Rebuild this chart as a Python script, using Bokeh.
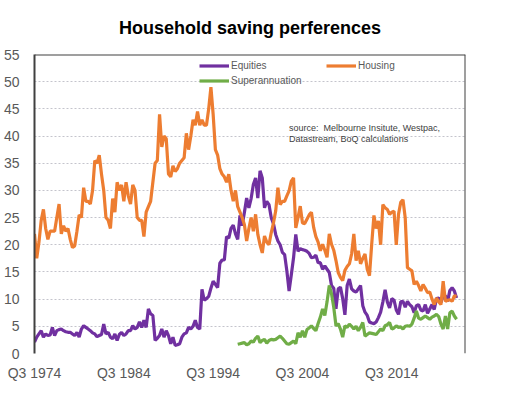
from bokeh.plotting import figure
from bokeh.models import Range1d, FixedTicker, Legend, LegendItem, Span, Label
from bokeh.embed import file_html
from bokeh.resources import INLINE

# Quarterly data, Q3 1974 .. Q4 2021 (index 0 = Q3 1974)
housing = [
    22.0, 17.5, 20.5, 24.5, 26.5, 23.0, 21.0, 22.5, 22.5, 22.5,
    25.0, 27.5, 22.0, 23.5, 22.5, 23.0, 21.0, 19.5, 19.8, 22.5,
    25.5, 25.0, 30.5, 28.0, 28.0, 27.5, 30.0, 35.5, 35.0, 36.5,
    33.0, 30.0, 25.0, 24.5, 23.0, 28.5, 26.0, 31.5, 30.0, 31.0,
    28.0, 31.5, 29.0, 27.5, 31.0, 30.0, 25.0, 24.5, 24.5, 21.5,
    26.0, 27.0, 28.0, 31.5, 35.0, 35.5, 44.0, 38.0, 40.0, 39.5,
    33.0, 32.5, 34.5, 33.5, 34.0, 35.0, 35.5, 36.0, 40.5, 37.5,
    40.0, 43.0, 42.0, 44.5, 42.0, 43.0, 42.0, 42.0, 45.0, 49.0,
    44.0, 37.5, 36.5, 34.0, 33.0, 32.5, 31.5, 33.0, 30.0, 28.0,
    30.0, 27.0, 26.0, 25.0, 23.7, 20.7, 23.0, 25.0, 22.5, 25.6,
    21.9, 20.0, 18.5, 21.6, 20.5, 20.0, 22.2, 24.0, 26.2, 30.5,
    27.4, 28.0, 28.0, 29.0, 29.9, 31.7, 32.3, 23.1, 25.0, 27.1,
    24.0, 23.9, 24.7, 25.5, 26.0, 23.2, 21.5, 20.5, 18.9, 20.1,
    19.0, 17.7, 22.0, 20.1, 19.0, 17.1, 14.9, 14.0, 13.4, 15.3,
    16.0, 16.5, 18.3, 22.0, 17.1, 18.9, 16.5, 17.5, 18.3, 15.5,
    14.3, 20.1, 25.4, 23.0, 24.4, 20.0, 27.4, 26.8, 26.5, 25.6,
    26.0, 26.2, 20.0, 25.6, 27.8, 28.3, 25.0, 15.8, 15.5, 15.2,
    12.7, 13.3, 12.5, 11.5, 12.7, 12.0, 11.2, 11.3, 10.0, 9.0,
    10.2, 9.5, 9.0, 13.3, 9.6, 9.8, 9.9, 9.6, 10.6, 10.5,
]

equities = [
    2.1, 3.0, 3.6, 4.2, 3.0, 3.6, 3.3, 3.4, 4.8, 3.3,
    4.2, 4.4, 4.5, 4.2, 4.0, 3.9, 3.9, 3.6, 3.3, 3.9,
    3.0, 4.5, 5.1, 4.8, 4.5, 4.2, 3.8, 3.6, 3.1, 3.3,
    3.5, 5.4, 3.6, 3.9, 3.0, 2.7, 3.6, 2.4, 3.5, 3.9,
    3.3, 3.6, 4.2, 4.2, 5.1, 4.5, 4.8, 5.8, 4.8, 6.1,
    4.8, 8.2, 7.3, 7.0, 2.4, 2.8, 3.3, 4.5, 3.0, 4.2,
    3.3, 1.8, 3.0, 1.5, 1.6, 1.8, 3.0, 3.6, 3.8, 4.8,
    4.5, 5.0, 6.1, 4.8, 4.5, 11.8, 9.8, 10.1, 10.5, 12.0,
    13.3, 12.7, 12.1, 16.6, 17.2, 17.2, 21.5, 21.2, 23.0, 23.6,
    22.0, 21.0, 25.4, 23.5, 26.0, 28.6, 26.8, 28.5, 31.1, 32.3,
    28.6, 33.6, 32.3, 26.8, 28.0, 27.4, 25.0, 23.9, 21.9, 20.7,
    20.0, 18.6, 18.2, 15.2, 11.5, 14.5, 17.6, 21.9, 18.8, 19.3,
    19.1, 19.0, 18.8, 18.4, 17.6, 17.7, 18.1, 16.7, 16.7, 15.5,
    16.1, 15.5, 14.9, 12.5, 12.0, 8.2, 11.9, 12.2, 10.1, 7.1,
    12.5, 13.7, 11.9, 11.5, 11.3, 11.9, 12.5, 8.8, 7.6, 7.0,
    5.8, 5.6, 5.5, 5.8, 6.6, 7.6, 9.5, 11.7, 9.5, 8.4,
    10.1, 9.8, 8.0, 7.2, 9.5, 9.6, 8.5, 9.6, 9.0, 8.6,
    7.5, 8.8, 9.0, 8.0, 7.8, 9.0, 7.4, 8.2, 9.0, 8.1,
    10.1, 10.2, 9.4, 10.7, 10.6, 9.6, 11.6, 12.1, 11.5, 10.2,
]

# Superannuation starts at Q2 1997 (index 91)
super_start = 91
superannuation = [
    1.7, 1.8, 1.9, 2.0, 1.6, 1.8, 2.3, 2.1, 2.8,
    3.2, 2.0, 2.4, 2.6, 1.9, 2.4, 2.6, 2.5, 2.6, 2.9,
    3.2, 2.8, 2.3, 1.8, 1.7, 2.0, 2.3, 1.8, 3.8, 3.0,
    4.2, 3.0, 4.4, 4.7, 5.1, 4.6, 4.2, 5.5, 6.7, 8.2,
    7.0, 9.5, 12.5, 11.0, 8.5, 5.1, 5.5, 4.5, 3.0, 5.1,
    4.8, 5.4, 5.0, 4.5, 5.0, 4.2, 4.8, 5.7, 3.2, 3.5,
    3.8, 3.7, 3.6, 3.5, 4.0, 4.5, 4.2, 5.1, 5.3, 5.7,
    4.5, 4.7, 5.1, 4.8, 4.9, 4.5, 5.0, 5.1, 5.0, 5.4,
    6.5, 7.8, 6.5, 6.3, 6.6, 6.9, 6.6, 6.3, 6.7, 6.9,
    7.2, 6.8, 5.4, 4.5, 6.9, 4.5, 7.5, 7.8, 6.9, 6.3,
]

tick_positions = [0, 40, 80, 120, 160]
tick_labels = ["Q3 1974", "Q3 1984", "Q3 1994", "Q3 2004", "Q3 2014"]
y_ticks = list(range(0, 60, 5))

x_all = list(range(len(housing)))
x_super = list(range(super_start, super_start + len(superannuation)))

FONT = "'Liberation Sans', Arial, sans-serif"
PURPLE = "#7030A0"
ORANGE = "#ED7D31"
GREEN = "#70AD47"

X_END = 193
Y_END = 55

p = figure(width=490, height=383, output_backend="svg", toolbar_location=None,
           x_range=Range1d(0, X_END), y_range=Range1d(0, Y_END),
           min_border_left=25, min_border_right=25, min_border_top=54, min_border_bottom=30,
           background_fill_color="white", border_fill_color="white")

p.title.text = "Household saving perferences"
p.title.align = "center"
p.title.vertical_align = "top"
p.title.text_font = FONT
p.title.text_font_size = "18px"
p.title.text_font_style = "bold"
p.title.text_color = "#000000"
p.title.standoff = 30

p.outline_line_color = None

r_eq = p.line(x_all, equities, line_color=PURPLE, line_width=3.2)
r_ho = p.line(x_all, housing, line_color=ORANGE, line_width=3.2)
r_su = p.line(x_super, superannuation, line_color=GREEN, line_width=3.2)

# axes
p.xaxis.ticker = FixedTicker(ticks=tick_positions)
p.xaxis.major_label_overrides = {t: l for t, l in zip(tick_positions, tick_labels)}
p.xaxis.axis_line_color = None
p.xaxis.major_tick_line_color = None
p.xaxis.minor_tick_line_color = None
p.xaxis.major_label_text_font = FONT
p.xaxis.major_label_text_font_size = "14px"
p.xaxis.major_label_text_color = "#595959"
p.xaxis.major_label_standoff = 5

p.yaxis.ticker = FixedTicker(ticks=y_ticks)
p.yaxis.axis_line_color = "#404040"
p.yaxis.axis_line_width = 2
p.yaxis.major_tick_line_color = None
p.yaxis.minor_tick_line_color = None
p.yaxis.major_label_text_font = FONT
p.yaxis.major_label_text_font_size = "14px"
p.yaxis.major_label_text_color = "#595959"
p.yaxis.major_label_standoff = 9

p.xgrid.grid_line_color = None
p.ygrid.ticker = FixedTicker(ticks=y_ticks)
p.ygrid.grid_line_color = "#c4c4cc"
p.ygrid.grid_line_dash = "2 2"
p.ygrid.grid_line_width = 1

# top and right frame borders
p.add_layout(Span(location=Y_END, dimension="width", line_color="#404040", line_width=2))
p.add_layout(Span(location=X_END, dimension="height", line_color="#404040", line_width=2))

def make_legend(items, loc):
    lg = Legend(items=items, location=loc, orientation="vertical",
                glyph_width=30, glyph_height=15, label_height=15, label_standoff=2,
                padding=0, margin=0, spacing=0,
                label_text_font=FONT, label_text_font_size="10px",
                label_text_color="#595959",
                border_line_color=None, background_fill_alpha=0)
    return lg

# location = bottom-left corner of each legend box, in px from the frame's bottom-left
leg1 = make_legend([LegendItem(label="Equities", renderers=[r_eq]),
                    LegendItem(label="Superannuation", renderers=[r_su])], (165, 265))
leg2 = make_legend([LegendItem(label="Housing", renderers=[r_ho])], (292, 280))
p.add_layout(leg1)
p.add_layout(leg2)

src1 = Label(x=114, y=41.4, text="source:\u00a0 Melbourne Insitute, Westpac,",
             text_font=FONT, text_font_size="9px", text_color="#404040",
             text_baseline="middle", text_align="left")
src2 = Label(x=114, y=39.4, text="Datastream, BoQ calculations",
             text_font=FONT, text_font_size="9px", text_color="#404040",
             text_baseline="middle", text_align="left")
p.add_layout(src1)
p.add_layout(src2)

open("out.html", "w").write(file_html(p, INLINE))
